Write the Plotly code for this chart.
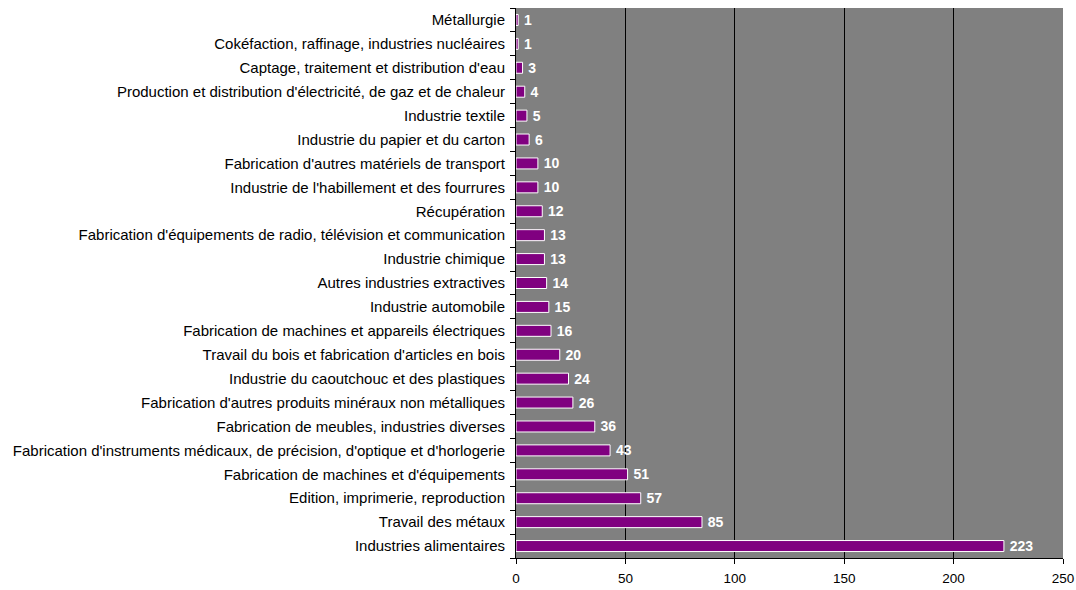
import plotly.graph_objects as go

categories = [
    "Industries alimentaires",
    "Travail des métaux",
    "Edition, imprimerie, reproduction",
    "Fabrication de machines et d'équipements",
    "Fabrication d'instruments médicaux, de précision, d'optique et d'horlogerie",
    "Fabrication de meubles, industries diverses",
    "Fabrication d'autres produits minéraux non métalliques",
    "Industrie du caoutchouc et des plastiques",
    "Travail du bois et fabrication d'articles en bois",
    "Fabrication de machines et appareils électriques",
    "Industrie automobile",
    "Autres industries extractives",
    "Industrie chimique",
    "Fabrication d'équipements de radio, télévision et communication",
    "Récupération",
    "Industrie de l'habillement et des fourrures",
    "Fabrication d'autres matériels de transport",
    "Industrie du papier et du carton",
    "Industrie textile",
    "Production et distribution d'électricité, de gaz et de chaleur",
    "Captage, traitement et distribution d'eau",
    "Cokéfaction, raffinage, industries nucléaires",
    "Métallurgie",
]
values = [223, 85, 57, 51, 43, 36, 26, 24, 20, 16, 15, 14, 13, 13, 12, 10, 10, 6, 5, 4, 3, 1, 1]
x_ticks = [0, 50, 100, 150, 200, 250]

fig = go.Figure(go.Bar(
    y=categories,
    x=values,
    orientation="h",
    width=0.46,
    marker=dict(color="#800080", line=dict(color="white", width=1)),
    texttemplate="\u2009%{x}",
    textposition="outside",
    constraintext="none",
    textfont=dict(color="white", size=14, family="Liberation Sans, Arial", weight="bold"),
    cliponaxis=False,
))

fig.update_layout(
    width=1076, height=590,
    margin=dict(l=516, r=13, t=8, b=32),
    plot_bgcolor="#808080",
    paper_bgcolor="white",
    font=dict(family="Liberation Sans, Arial", size=14, color="black"),
    showlegend=False,
)
fig.update_xaxes(
    range=[0, 250], tickvals=x_ticks, showgrid=True, gridcolor="black", gridwidth=1,
    showline=True, linecolor="black", linewidth=1, ticks="outside", ticklen=5,
    tickcolor="black", zeroline=False, tickfont=dict(size=13.5), ticklabelstandoff=3,
    automargin=False,
)
fig.update_yaxes(
    categoryorder="array", categoryarray=categories, showgrid=False,
    showline=True, linecolor="black", linewidth=1, ticks="outside", ticklen=5,
    tickcolor="black", tickson="boundaries", tickfont=dict(size=15),
    ticklabelstandoff=7, automargin=False,
    range=[-0.5, len(categories) - 0.5],
)

fig.write_html(
    "out.html",
    config={"displayModeBar": False},
    post_script="document.body.style.margin='0';document.body.style.overflow='hidden';",
)
